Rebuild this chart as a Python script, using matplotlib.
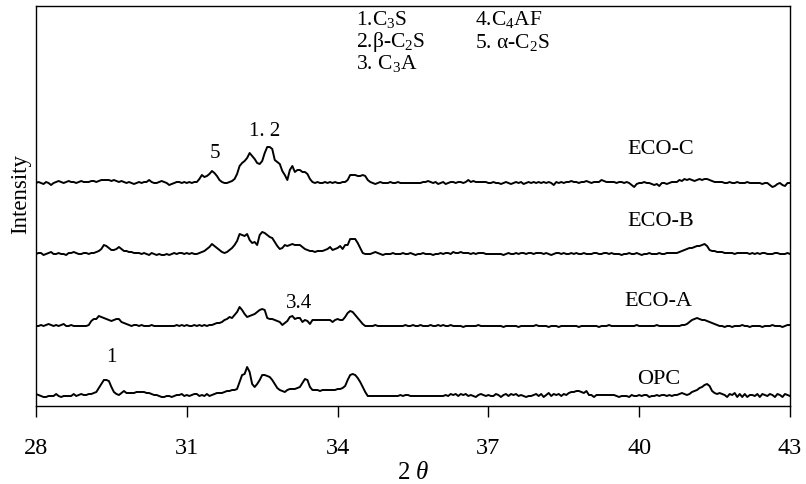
import numpy as np
import matplotlib
matplotlib.use("Agg")
import matplotlib.pyplot as plt

plt.rcParams['font.family'] = ['Liberation Serif', 'DejaVu Serif']
plt.rcParams['mathtext.fontset'] = 'custom'
plt.rcParams['mathtext.rm'] = 'Liberation Serif'
plt.rcParams['mathtext.it'] = 'Liberation Serif:italic'

# 2-theta scan grid, 28..43 deg in 0.05 deg steps
two_theta = np.round(np.arange(28, 43.001, 0.05), 2)

# intensities above each pattern's baseline (arbitrary units), one row per degree
eco_c = [
    0, 1, 0, -1, 1, 0, -2, 0, 1, 2, 1, 0, 1, 2, 1, 1, 0, 1, 2, 1,
    1, 1, 2, 2, 1, 2, 3, 3, 3, 3, 2, 3, 2, 1, 2, 1, 0, 1, 0, -1,
    0, 1, 0, 1, 1, 3, 1, 0, 0, 1, 2, 1, 0, -2, -1, 0, 1, 1, 0, 1,
    0, 1, 0, 1, 1, 4, 8, 6, 7, 9, 12, 10, 7, 3, 1, 0, 0, 1, 2, 4,
    9, 17, 20, 22, 25, 30, 27, 24, 20, 19, 22, 30, 36, 36, 34, 23, 21, 19, 12, 8,
    3, 13, 17, 11, 13, 13, 11, 11, 9, 4, 1, 0, 1, 0, 0, 1, 0, 1, 0, 1,
    0, 0, 1, 1, 3, 8, 8, 8, 7, 7, 8, 7, 3, 1, 0, -1, 0, 1, 0, 0,
    0, 1, 0, 0, 1, 0, 0, 0, 0, 0, 0, 0, 0, 0, 1, 1, 2, 1, 0, 1,
    -1, 0, 1, -1, 0, 1, 1, 0, 1, 1, 0, 1, 3, 1, 2, 1, 1, 1, 1, 1,
    0, 0, 1, 0, 0, -1, 0, 1, 0, -1, 0, 1, 0, 1, -1, 0, 1, 0, 1, 0,
    1, 0, 1, 0, 1, 0, -2, 1, 0, 1, 0, 1, 1, 2, 1, 1, 0, 1, 1, 2,
    1, 0, 1, 1, 1, 3, 2, 1, 1, 1, 1, 0, 1, 1, 0, 1, 0, -2, -4, -1,
    0, 0, 1, 0, 0, -1, -2, -1, -3, 0, 0, -1, 0, 1, 1, 1, 3, 2, 4, 3,
    4, 3, 2, 3, 4, 3, 4, 4, 3, 2, 1, 1, 1, 1, 0, 0, 1, 0, 0, 1,
    0, 0, 0, 1, 0, 0, 0, 0, 0, -1, 0, 0, -2, -4, -3, -1, 0, -2, -3, 0,
    0,
]

eco_b = [
    0, 1, 1, -1, 0, 1, 2, 0, 0, 1, 0, 0, -1, 1, 1, 2, 1, 0, 0, 1,
    1, 0, 1, 1, 2, 3, 5, 9, 8, 6, 4, 4, 5, 7, 5, 3, 3, 2, 2, 1,
    1, 1, 0, 1, 0, -1, 1, 0, -1, 0, -1, -1, 0, -1, 0, 1, 0, 1, 1, 0,
    1, 0, 1, 0, 0, 1, 2, 3, 5, 7, 10, 8, 6, 4, 2, 1, 2, 4, 6, 9,
    13, 20, 19, 18, 20, 14, 11, 12, 9, 19, 22, 21, 19, 17, 16, 12, 8, 5, 6, 9,
    8, 9, 10, 9, 9, 9, 7, 5, 4, 3, 3, 2, 3, 3, 3, 4, 5, 7, 4, 5,
    6, 8, 5, 9, 9, 15, 15, 15, 11, 6, 1, 0, 0, 0, 1, 2, 1, 0, -1, 0,
    0, 0, 1, 0, 0, 0, 1, 0, 0, 1, 0, -1, 0, 0, 1, 0, 0, 0, -1, 0,
    0, 1, 0, 1, 1, 0, 2, 1, 1, 2, 1, 1, 1, 0, 1, 0, 1, 1, 1, 0,
    0, 0, 0, 0, 0, 0, -1, 0, 1, 0, 0, 1, 0, 1, 1, 0, 1, 1, 0, 1,
    1, 1, 0, 1, 0, -1, 0, 1, 1, 0, 1, 0, 0, 1, 0, 1, 0, 0, 1, 0,
    0, 0, 1, 1, 0, 0, 1, 1, 0, 1, 0, 0, 0, -1, 0, 0, 1, 0, 0, 1,
    0, -1, 0, 0, 1, 0, 0, 0, 1, 0, 0, 1, 1, 1, 1, 1, 2, 3, 4, 5,
    6, 6, 7, 8, 8, 9, 10, 8, 4, 3, 3, 2, 2, 2, 1, 1, 1, 1, 0, 1,
    1, 1, 1, 1, 0, 1, 0, 1, 0, 1, 1, 0, 0, 0, 1, 1, 0, 0, 0, 1,
    0,
]

eco_a = [
    0, 0, 1, 0, 1, 2, 1, 0, 1, 0, 1, 2, 0, 0, 1, 0, 0, 0, 0, 0,
    0, 1, 5, 7, 7, 10, 9, 8, 7, 6, 5, 6, 7, 7, 4, 3, 2, 1, 0, 1,
    1, 0, 1, 0, 0, 0, 1, 0, 0, 0, 0, 0, 0, 0, 0, 0, 1, 0, 1, 0,
    1, 0, 0, 1, 0, 1, 0, 1, 0, 1, 1, 2, 3, 3, 4, 6, 7, 9, 8, 11,
    14, 19, 16, 12, 9, 10, 11, 12, 14, 16, 17, 16, 8, 7, 7, 6, 5, 4, 1, 3,
    5, 9, 10, 7, 8, 8, 4, 6, 5, 2, 6, 6, 6, 6, 6, 6, 6, 6, 4, 6,
    7, 6, 6, 9, 13, 15, 14, 11, 8, 5, 2, 0, 0, 0, 0, 1, 0, 0, 0, 0,
    0, 0, 0, 0, 0, 0, 0, 1, 0, 0, 1, 0, 0, 1, 0, 0, 0, 1, 0, 0,
    1, 0, 1, 0, 0, 1, 0, 0, 0, 0, -1, 0, 0, 0, 0, 0, 1, 0, 0, 0,
    0, 0, 0, 0, 0, 0, -1, 0, 0, 0, 0, 0, -1, 0, 0, 0, 0, 0, 0, 1,
    0, 0, 0, 0, -1, 0, 0, 0, -1, 0, 0, 0, 0, 0, 0, 0, -1, 0, 0, 0,
    0, 0, 0, 0, -1, 0, 0, 0, 1, 0, 0, 0, 0, 0, 0, 0, 0, 0, 0, 1,
    0, 0, 0, 0, 0, 0, 0, 1, 0, 0, 0, 0, 0, 0, 0, 0, 0, 1, 1, 2,
    4, 6, 7, 8, 7, 6, 6, 5, 4, 3, 2, 1, 0, 0, -1, 0, 0, -1, 0, 0,
    0, 1, 0, 0, -1, 0, 0, 0, 0, -1, 0, 0, 0, 1, 0, 0, 0, -1, 0, 1,
    1,
]

opc = [
    2, 1, 0, -1, -1, 0, 0, 0, 2, 0, -1, 0, 0, 0, 0, 2, 0, 1, 2, 1,
    1, 2, 2, 3, 4, 8, 12, 16, 16, 15, 9, 4, 2, 1, 3, 5, 3, 3, 3, 3,
    4, 4, 4, 4, 3, 3, 2, 1, 1, 0, -1, -1, 0, 0, -1, 0, 1, 1, 2, 0,
    1, 0, 1, 2, 2, 0, 1, 0, 2, 0, 1, 2, 3, 3, 3, 4, 5, 5, 6, 6,
    7, 14, 21, 22, 29, 24, 12, 9, 12, 16, 21, 21, 20, 19, 16, 12, 8, 6, 5, 4,
    6, 7, 7, 7, 8, 9, 13, 17, 16, 9, 6, 6, 6, 5, 6, 6, 6, 6, 6, 6,
    7, 7, 8, 10, 16, 21, 22, 21, 18, 14, 9, 4, 0, 0, 0, 0, 0, 0, 0, 0,
    0, 0, 0, 0, 0, 1, 0, 1, 1, 0, 0, 0, 0, 0, 0, 0, 0, 0, 0, 0,
    0, 0, 0, 1, 0, 2, 1, 2, 0, 2, 1, 2, 0, 1, 0, -1, 1, 2, 1, 0,
    1, 0, 0, 2, 1, -1, 1, 2, 0, 2, 1, 2, 0, 1, 0, -1, 0, 0, 1, 2,
    0, 2, -1, 1, 3, 0, 2, 1, 2, 0, 2, 1, 3, 4, 4, 5, 5, 4, 3, 5,
    1, 1, -1, 1, 1, 1, 1, 1, 1, 1, 1, 0, -1, 0, 0, 0, -1, 1, 0, 0,
    1, 0, 1, 1, -1, 0, 0, 1, 0, 1, 1, 0, 1, 0, 1, 1, 2, 3, 2, 1,
    2, 4, 5, 6, 8, 9, 11, 12, 10, 5, 3, 2, 3, 2, 1, -1, 2, 1, 3, -1,
    2, -1, 2, -1, 1, 1, 0, 2, -1, 2, 1, 0, 2, 1, -1, 2, 1, -1, 2, 1,
    0,
]

sample_names = ['OPC', 'ECO-A', 'ECO-B', 'ECO-C']
offsets = [10, 80, 152, 223]

fig = plt.figure(figsize=(8.06, 4.84), dpi=100)
ax = fig.add_axes([36 / 806, 1 - 406 / 484, 754 / 806, 400 / 484])

for ys, off in zip([opc, eco_a, eco_b, eco_c], offsets):
    ax.plot(two_theta, np.array(ys) + off, color='black', lw=1.4)

ax.set_xlim(28, 43)
ax.set_ylim(0, 400)
ax.set_xticks([28, 31, 34, 37, 40, 43])
ax.set_yticks([])
ax.tick_params(axis='x', direction='out', length=8, width=1, pad=15, labelsize=17.5)
for s in ax.spines.values():
    s.set_linewidth(1.0)

ax.set_xlabel('2 ' + r'$\theta$', fontsize=18, labelpad=2)
ax.set_ylabel('Intensity', fontsize=16.5)
ax.yaxis.set_label_coords(-0.006, 0.53)

# sample labels
for name, (lx, ly) in zip(sample_names, [(40.38, 27), (40.38, 105), (40.42, 184), (40.42, 256)]):
    ax.text(lx, ly, name, fontsize=16, ha='center', va='center')

# peak markers
ax.text(29.49, 49, '1', fontsize=15, ha='center', va='center')
ax.text(33.24, 102, '3.4', fontsize=15, ha='center', va='center')
ax.text(31.56, 253, '5', fontsize=15, ha='center', va='center')
ax.text(32.54, 274, '1. 2', fontsize=15, ha='center', va='center')

# phase key
key_left = ['1.C$_3$S', '2.\u03b2-C$_2$S', '3. C$_3$A']
key_right = ['4.C$_4$AF', '5. \u03b1-C$_2$S']
for i, t in enumerate(key_left):
    ax.text(0.424, 0.965 - 0.055 * i, t, transform=ax.transAxes, fontsize=15.5, va='center', ha='left')
for i, t in enumerate(key_right):
    ax.text(0.582, 0.965 - 0.055 * i, t, transform=ax.transAxes, fontsize=15.5, va='center', ha='left')

fig.savefig('out.png', dpi=100)
